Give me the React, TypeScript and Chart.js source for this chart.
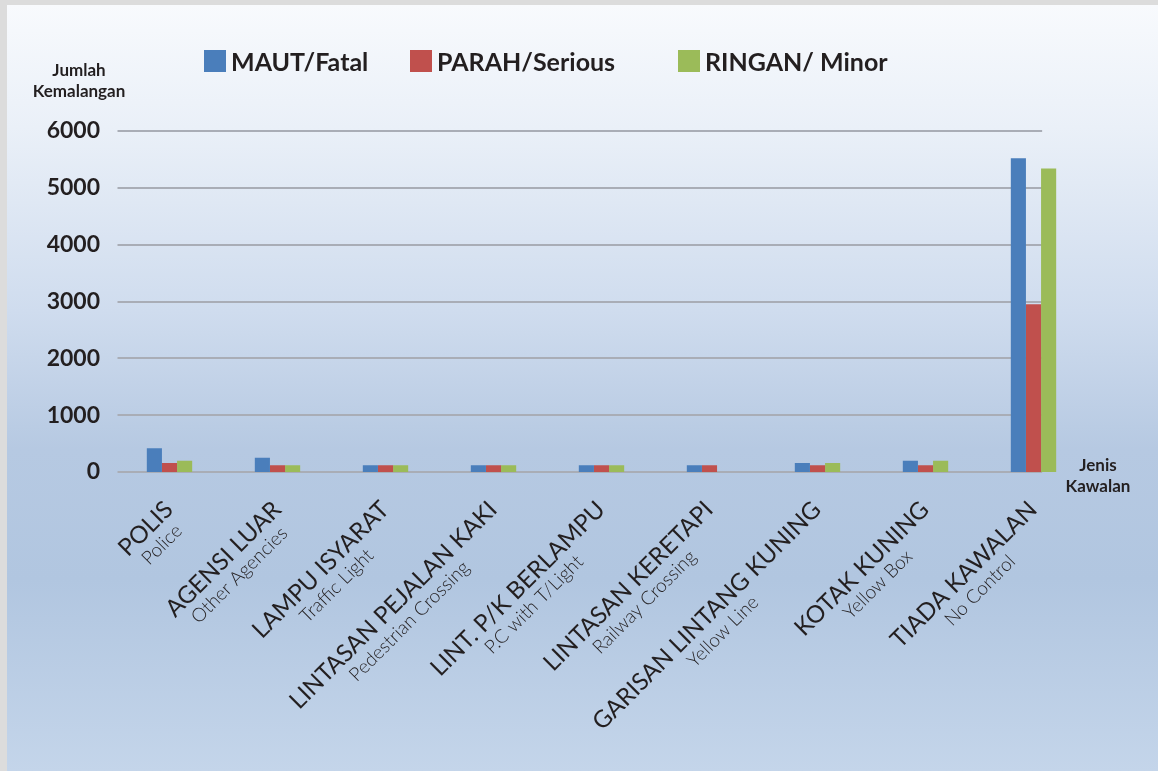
import React, { useEffect, useRef } from "react";
import { Chart, registerables } from "chart.js";

Chart.register(...registerables);

const categories = [
  "POLIS",
  "AGENSI LUAR",
  "LAMPU ISYARAT",
  "LINTASAN PEJALAN KAKI",
  "LINT. P/K BERLAMPU",
  "LINTASAN KERETAPI",
  "GARISAN LINTANG KUNING",
  "KOTAK KUNING",
  "TIADA KAWALAN",
];
const subLabels = [
  "Police",
  "Other Agencies",
  "Traffic Light",
  "Pedestrian Crossing",
  "P.C with T/Light",
  "Railway Crossing",
  "Yellow Line",
  "Yellow Box",
  "No Control",
];
const seriesNames = ["MAUT/Fatal", "PARAH/Serious", "RINGAN/ Minor"];
const fatal = [420, 250, 120, 120, 120, 120, 160, 200, 5520];
const serious = [160, 120, 120, 120, 120, 120, 120, 120, 2950];
const minor = [200, 120, 120, 120, 120, 0, 160, 200, 5340];
const yMin = 0;
const yMax = 6000;
const yStep = 1000;
const yTitle = ["Jumlah", "Kemalangan"];
const xTitle = ["Jenis", "Kawalan"];

const colors = ["#4a7ebb", "#c0504d", "#9bbb59"];
const textColor = "#231f20";
const FONT = "Lato, 'Open Sans', 'DejaVu Sans', sans-serif";

const gridPlugin = {
  id: "customGrid",
  beforeDatasetsDraw(chart: any) {
    const { ctx, chartArea, scales } = chart;
    const xs = scales.x;
    const ys = scales.y;
    const n = categories.length;
    const spacing = xs.getPixelForValue(1) - xs.getPixelForValue(0);
    const xEnd = xs.getPixelForValue(n - 1) + spacing * 0.08;
    ctx.save();
    ctx.strokeStyle = "#a9adb6";
    ctx.lineWidth = 2;
    ys.ticks.forEach((t: any) => {
      const py = Math.round(ys.getPixelForValue(t.value));
      ctx.beginPath();
      ctx.moveTo(chartArea.left + 2, py);
      ctx.lineTo(xEnd, py);
      ctx.stroke();
    });
    ctx.restore();
  },
};

const labelPlugin = {
  id: "twoLineLabels",
  afterDraw(chart: any) {
    const { ctx, chartArea, scales } = chart;
    const xs = scales.x;
    ctx.save();
    ctx.fillStyle = textColor;
    categories.forEach((cat, i) => {
      const px = xs.getPixelForTick(i) - 7;
      const py = chartArea.bottom + 27;
      ctx.save();
      ctx.translate(px, py);
      ctx.rotate(-Math.PI / 4);
      ctx.textBaseline = "alphabetic";
      ctx.font = `400 24px ${FONT}`;
      const w = ctx.measureText(cat).width;
      ctx.textAlign = "right";
      ctx.fillText(cat, 0, 17);
      ctx.font = `300 19px ${FONT}`;
      ctx.textAlign = "center";
      ctx.fillText(subLabels[i], -w / 2, 38);
      ctx.restore();
    });
    ctx.restore();
  },
};

export default function App() {
  const canvasRef = useRef<HTMLCanvasElement | null>(null);

  useEffect(() => {
    if (!canvasRef.current) return;
    const chart = new Chart(canvasRef.current, {
      type: "bar",
      data: {
        labels: categories,
        datasets: [
          { label: seriesNames[0], data: fatal, backgroundColor: colors[0] },
          { label: seriesNames[1], data: serious, backgroundColor: colors[1] },
          { label: seriesNames[2], data: minor, backgroundColor: colors[2] },
        ],
      },
      options: {
        responsive: false,
        animation: false,
        datasets: {
          bar: { categoryPercentage: 0.42, barPercentage: 1 },
        },
        layout: { padding: { left: 0, right: 70.5, top: 126, bottom: 299 } },
        plugins: {
          legend: { display: false },
          tooltip: { enabled: false },
        },
        scales: {
          x: {
            grid: { display: false },
            border: { display: false },
            ticks: { display: false },
            afterFit(scale: any) {
              scale.height = 0;
            },
          },
          y: {
            min: yMin,
            max: yMax,
            grid: { display: false, drawTicks: false },
            border: { display: false },
            ticks: {
              stepSize: yStep,
              padding: 15.5,
              color: textColor,
              font: { family: FONT, size: 23, weight: "bold" },
              callback: (v: any) => String(v),
            },
            afterFit(scale: any) {
              scale.width = 108.5;
            },
          },
        },
      },
      plugins: [gridPlugin, labelPlugin],
    });
    return () => chart.destroy();
  }, []);

  const legendPos = [204, 410, 678];

  return (
    <div
      style={{
        position: "absolute",
        left: 0,
        top: 0,
        width: 1158,
        height: 771,
        background: "#dcdcdc",
        overflow: "hidden",
        fontFamily: FONT,
        color: textColor,
      }}
    >
      <div
        style={{
          position: "absolute",
          left: 7,
          top: 5,
          width: 1151,
          height: 766,
          background:
            "linear-gradient(to bottom, #f8fafd 0%, #eaf0f8 16%, #cfdcee 40%, #b6c9e2 58%, #b1c6e0 75%, #c4d5ea 100%)",
        }}
      >
        <canvas ref={canvasRef} width={1151} height={766} style={{ display: "block" }} />
      </div>
      {seriesNames.map((name, i) => (
        <div key={name}>
          <div
            style={{
              position: "absolute",
              left: legendPos[i],
              top: 50,
              width: 22,
              height: 22,
              background: colors[i],
            }}
          />
          <div
            style={{
              position: "absolute",
              left: legendPos[i] + 27,
              top: 44,
              height: 34,
              lineHeight: "34px",
              fontSize: 25,
              fontWeight: 700,
              whiteSpace: "nowrap",
            }}
          >
            {name}
          </div>
        </div>
      ))}
      <div
        style={{
          position: "absolute",
          left: 28,
          top: 59,
          width: 102,
          textAlign: "center",
          fontSize: 17,
          fontWeight: 700,
          lineHeight: "21px",
        }}
      >
        {yTitle.map((t) => (
          <div key={t}>{t}</div>
        ))}
      </div>
      <div
        style={{
          position: "absolute",
          left: 1048,
          top: 454,
          width: 100,
          textAlign: "center",
          fontSize: 17,
          fontWeight: 700,
          lineHeight: "21px",
        }}
      >
        {xTitle.map((t) => (
          <div key={t}>{t}</div>
        ))}
      </div>
    </div>
  );
}
